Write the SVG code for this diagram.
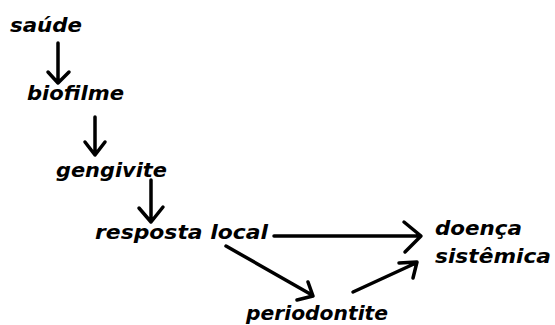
<svg xmlns="http://www.w3.org/2000/svg" width="555" height="325" viewBox="0 0 555 325">
<style>
.t{font-family:"DejaVu Sans","Liberation Sans",sans-serif;font-weight:bold;font-style:italic;font-size:19px;fill:#000}
.c{fill:none;stroke:#000;stroke-width:3.5;stroke-linecap:round;stroke-linejoin:round}
</style>
<rect width="555" height="325" fill="#fff"/>
<g id="saude"><text class="t" x="10" y="32" textLength="72" lengthAdjust="spacingAndGlyphs">saúde</text></g>
<g id="biofilme"><text class="t" x="27" y="100" textLength="97" lengthAdjust="spacingAndGlyphs">biofilme</text></g>
<g id="gengivite"><text class="t" x="56" y="177" textLength="111" lengthAdjust="spacingAndGlyphs">gengivite</text></g>
<g id="resposta-local"><text class="t" x="95" y="239" textLength="173" lengthAdjust="spacingAndGlyphs">resposta local</text></g>
<g id="doenca-sistemica">
<text class="t" x="435" y="235" textLength="87" lengthAdjust="spacingAndGlyphs">doença</text>
<text class="t" x="435" y="263" textLength="116" lengthAdjust="spacingAndGlyphs">sistêmica</text>
</g>
<g id="periodontite"><text class="t" x="246" y="320" textLength="142" lengthAdjust="spacingAndGlyphs">periodontite</text></g>
<g id="connectors">
<path class="c" d="M58 43V83M48 72L58 83L69 72"/>
<path class="c" d="M95 117V155M85 142L95 155L105 142"/>
<path class="c" d="M151 180V222M139 208L151 222L163 207"/>
<path class="c" d="M274 236H420M404 222L421 236L405 252"/>
<path class="c" d="M226 246L312 295M308 282L313 296L297 300"/>
<path class="c" d="M353 292L416 263M399 263L417 262L413 278"/>
</g>
</svg>
